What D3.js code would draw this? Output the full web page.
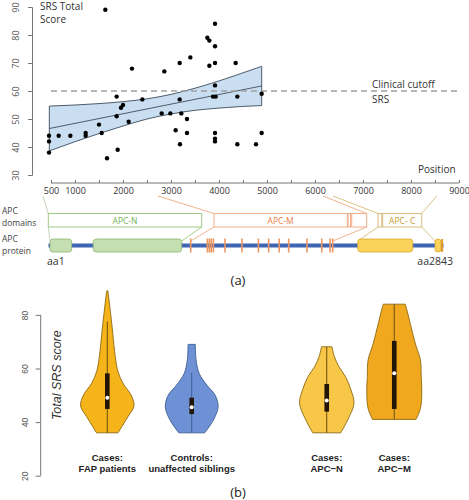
<!DOCTYPE html>
<html><head><meta charset="utf-8">
<script src="https://cdn.jsdelivr.net/npm/d3@7"></script>
<style>body{margin:0;background:#fff}svg{display:block}</style>
</head><body><svg id="c" width="469" height="500"></svg>
<script>
// ---------- Panel (a) data ----------
const positions = [458,458,458,660,903,1222,1222,1500,1556,1632,1667,1868,1868,1889,1958,2000,2118,2187,2403,2806,2861,2986,3097,3181,3181,3187,3215,3333,3333,3403,3757,3799,3799,3917,3917,3917,3917,3875,3931,3917,3917,3917,4347,4382,4382,4889,4889,4771];
const scores    = [44,42,38,44,44,45,44,48,45,89,36,58,51,39,54,55,49,68,57,52,67,52,46,70,57,41,52,50,45,72,79,78,69,84,76,70,62,58,58,45,43,42,70,58,41,59,45,41];
const bandPos   = [465,1000,1500,2000,2500,3000,3500,4000,4500,4889];
const bandUpper = [54.6,55.0,55.5,56.2,57.2,58.8,61.0,63.6,66.5,68.8];
const bandLower = [38.6,41.9,44.8,47.5,50.0,51.8,53.1,53.9,54.5,54.8];
const fitPos    = [465,4889];
const fitVal    = [46.6,61.8];
const cutoff    = 60;
const xTicks    = [500,1000,1500,2000,2500,3000,3500,4000,4500,5000,5500,6000,6500,7000,7500,8000,8500,9000];
const xLabels   = [500,1000,2000,3000,4000,5000,6000,7000,8000,9000];
const yTicksA   = [30,40,50,60,70,80,90];

// domain boxes (nucleotide position coordinates)
const domainNames = ["APC-N","APC-M","","","APC- C"];
const domainStart = [444,3896,6765,7313,7410];
const domainEnd   = [3640,6673,7077,7390,8223];
const domainKind  = ["N","M","M","C","C"];
const domainExtra = [[6690,6740]];
// protein features (amino-acid coordinates)
const proteinLen = 2843;
const greenBoxes = [[12,168],[323,959]];
const orangeBars = [1024,1144,1158,1172,1187,1271,1393,1511,1585,1661,1729,1861,1967,2027,2046];
const yellowBoxes = [[2226,2622],[2782,2825]];
const yellowStripe = 2833;
// connectors: axis position -> box corner, box corner -> amino acid
const topConnFrom = [333,2729,6167,6375,8535];
const topConnTo   = [444,3896,7077,7313,8223];
const topConnKind = ["G","M","M","C","C"];
const botConnFrom = [444,3640,3896,7077,7313,8223];
const botConnTo   = [12,959,1024,2046,2226,2782];
const botConnKind = ["G","N","M","M","C","C"];

// ---------- Panel (b) data ----------
const groups    = ["Cases:|FAP patients","Controls:|unaffected siblings","Cases:|APC\u2212N","Cases:|APC\u2212M"];
const groupPos  = [1,2,3.6,4.4];
const vioColors = ["#f5b41a","#6d91d4","#f8c748","#f0a91f"];
const vioStroke = ["#8c6a12","#3d5d95","#8c6a12","#8c6a12"];
const densVals = [
  [36,42,46,50,54.5,58.8,64.4,73,80.6,89],
  [36,40.8,45.7,50.1,53.8,58.2,63.2,69],
  [36,40.8,47,52,57,60.7,64.4,68.1],
  [41,45,50.7,57,63.2,69.5,76,81.8,84]
];
const densRel = [
  [0.39,0.75,0.97,0.87,0.57,0.39,0.29,0.20,0.12,0.02],
  [0.47,0.79,0.96,0.85,0.55,0.27,0.16,0.13],
  [0.51,0.76,0.99,0.88,0.68,0.44,0.28,0.19],
  [0.79,0.95,1.0,0.98,0.95,0.76,0.6,0.46,0.40]
];
const q1 = [44.9,43,43.9,44.9];
const q3 = [58.2,49.1,54.2,70.3];
const med = [49.1,45.5,48.1,58.2];
const whLo = [36,36,36,41];
const whHi = [77.5,58.4,68.1,84];
const yTicksB = [20,40,60,80];

// ---------- drawing ----------
const svg = d3.select("#c");
const FONT = "'Open Sans', 'Liberation Sans', sans-serif";
const x = d3.scaleLinear().domain([0,9000]).range([27,459]);
const y = d3.scaleLinear().domain([30,90]).range([175,7]);

const bandData = bandPos.map((p,i)=>({p,u:bandUpper[i],l:bandLower[i]}));
svg.append("path").datum(bandData)
  .attr("d", d3.area().x(d=>x(d.p)).y0(d=>y(d.l)).y1(d=>y(d.u)).curve(d3.curveMonotoneX))
  .attr("fill","#c9def0").attr("stroke","none");
svg.append("path").datum(bandData).attr("d", d3.line().x(d=>x(d.p)).y(d=>y(d.u)).curve(d3.curveMonotoneX)).attr("fill","none").attr("stroke","#4d5d6b").attr("stroke-width",1);
svg.append("path").datum(bandData).attr("d", d3.line().x(d=>x(d.p)).y(d=>y(d.l)).curve(d3.curveMonotoneX)).attr("fill","none").attr("stroke","#4d5d6b").attr("stroke-width",1);
[0, bandPos.length-1].forEach(i=>{
  svg.append("line").attr("x1",x(bandPos[i])).attr("x2",x(bandPos[i])).attr("y1",y(bandUpper[i])).attr("y2",y(bandLower[i])).attr("stroke","#4d5d6b").attr("stroke-width",1);
});
svg.append("line").attr("x1",x(fitPos[0])).attr("x2",x(fitPos[1])).attr("y1",y(fitVal[0])).attr("y2",y(fitVal[1])).attr("stroke","#4d5d6b").attr("stroke-width",1);

svg.append("line").attr("x1",x(500)).attr("x2",x(9000)).attr("y1",y(cutoff)).attr("y2",y(cutoff))
  .attr("stroke","#a0a0a0").attr("stroke-width",1.3).attr("stroke-dasharray","6,4");

svg.append("g").selectAll("circle").data(positions).join("circle")
  .attr("cx",(d)=>x(d)).attr("cy",(d,i)=>y(scores[i])).attr("r",2.2).attr("fill","#000");

const gyA = svg.append("g").attr("transform",`translate(32,0)`)
  .call(d3.axisLeft(y).tickValues(yTicksA).tickSize(4).tickFormat(d3.format("d")));
gyA.select(".domain").attr("stroke","#777");
gyA.selectAll(".tick line").attr("stroke","#777");
gyA.selectAll("text").attr("transform","rotate(-90)").attr("x",0).attr("y",-13).attr("dy","0")
  .attr("text-anchor","middle").attr("font-size",9).attr("font-family",FONT).attr("fill","#555");

const gxA = svg.append("g").attr("transform",`translate(0,183)`)
  .call(d3.axisBottom(x).tickValues(xTicks).tickSize(-3).tickPadding(5)
    .tickFormat(d=>xLabels.includes(d)?d:""));
gxA.select(".domain").attr("d",`M${x(500)},0H${x(9000)}`).attr("stroke","#777");
gxA.selectAll(".tick line").attr("stroke","#777");
gxA.selectAll("text").attr("font-size",9).attr("font-family",FONT).attr("fill","#333");

const tA = svg.append("g").attr("font-family",FONT).attr("fill","#333").attr("font-size",10);
tA.append("text").attr("x",40).attr("y",10).text("SRS Total");
tA.append("text").attr("x",40).attr("y",23).text("Score");
tA.append("text").attr("x",372).attr("y",88).text("Clinical cutoff");
tA.append("text").attr("x",372).attr("y",103).text("SRS");
tA.append("text").attr("x",418).attr("y",173).text("Position");

const tL = svg.append("g").attr("font-family",FONT).attr("fill","#444").attr("font-size",8.5);
tL.append("text").attr("x",2).attr("y",214).text("APC");
tL.append("text").attr("x",2).attr("y",226).text("domains");
tL.append("text").attr("x",2).attr("y",242).text("APC");
tL.append("text").attr("x",2).attr("y",254).text("protein");

const connColor = {G:"#c8d2c0",N:"#a9cf8e",M:"#f2b48e",C:"#dcc385"};
const aa = d3.scaleLinear().domain([1,proteinLen]).range([48.5,443.5]);
topConnFrom.forEach((p,i)=>{
  svg.append("line").attr("x1",x(p)).attr("y1",196).attr("x2",x(topConnTo[i])).attr("y2",213.5)
    .attr("stroke",connColor[topConnKind[i]]).attr("stroke-width",1);
});
botConnFrom.forEach((p,i)=>{
  svg.append("line").attr("x1",x(p)).attr("y1",227).attr("x2",aa(botConnTo[i])).attr("y2",241)
    .attr("stroke",connColor[botConnKind[i]]).attr("stroke-width",1);
});

const domStroke = {N:"#9fcb84",M:"#f0ae86",C:"#d8bd7e"};
const domText = {N:"#78b256",M:"#ea7d3e",C:"#c49a2c"};
domainStart.forEach((s,i)=>{
  svg.append("rect").attr("x",x(s)).attr("y",213.5).attr("width",x(domainEnd[i])-x(s)).attr("height",13.5)
    .attr("fill","#fff").attr("stroke",domStroke[domainKind[i]]).attr("stroke-width",1);
  if(domainNames[i]) svg.append("text").attr("x",(x(s)+x(domainEnd[i]))/2).attr("y",223.8)
    .attr("text-anchor","middle").attr("font-family",FONT).attr("font-size",8.5).attr("fill",domText[domainKind[i]]).text(domainNames[i]);
});
domainExtra.forEach(e=>{
  svg.append("rect").attr("x",x(e[0])).attr("y",213.5).attr("width",x(e[1])-x(e[0])).attr("height",13.5)
    .attr("fill","#fff").attr("stroke",domStroke.M).attr("stroke-width",1);
});

svg.append("line").attr("x1",aa(1)).attr("x2",aa(proteinLen)).attr("y1",245.5).attr("y2",245.5).attr("stroke","#3f65b5").attr("stroke-width",4);
greenBoxes.forEach(b=>{
  svg.append("rect").attr("x",aa(b[0])).attr("y",239).attr("width",aa(b[1])-aa(b[0])).attr("height",13).attr("rx",3)
    .attr("fill","#c5dfb3").attr("stroke","#8cb86e").attr("stroke-width",0.8);
});
orangeBars.forEach(b=>{
  svg.append("rect").attr("x",aa(b)-0.8).attr("y",238.5).attr("width",1.6).attr("height",14).attr("fill","#ee9660");
});
yellowBoxes.forEach(b=>{
  svg.append("rect").attr("x",aa(b[0])).attr("y",239).attr("width",aa(b[1])-aa(b[0])).attr("height",13).attr("rx",3)
    .attr("fill","#fcd35a").attr("stroke","#d7a82a").attr("stroke-width",0.8);
});
svg.append("rect").attr("x",aa(yellowStripe)-1).attr("y",239).attr("width",2).attr("height",13).attr("fill","#e39a2c");

svg.append("text").attr("x",47).attr("y",265).attr("font-family",FONT).attr("font-size",10.5).attr("fill","#333").text("aa1");
svg.append("text").attr("x",453).attr("y",265).attr("text-anchor","end").attr("font-family",FONT).attr("font-size",10.5).attr("fill","#333").text("aa2843");
svg.append("text").attr("x",238).attr("y",285).attr("text-anchor","middle").attr("font-family",FONT).attr("font-size",13).attr("fill","#222").text("(a)");

// ---------- Panel (b) ----------
const yb = d3.scaleLinear().domain([20,80]).range([475.7,314.9]);
const xb = d3.scaleLinear().domain([0,5]).range([22.9,444.9]);
const wb = d3.scaleLinear().domain([0,1]).range([0,27.5]);

const gyB = svg.append("g").attr("transform","translate(40.7,0)")
  .call(d3.axisLeft(yb).tickValues(yTicksB).tickSize(5));
gyB.select(".domain").attr("d",`M0,${yb(20)}V${yb(80)}`).attr("stroke","#777");
gyB.selectAll(".tick line").attr("stroke","#777");
gyB.selectAll("text").attr("transform","rotate(-90)").attr("x",0).attr("y",-13).attr("dy","0")
  .attr("text-anchor","middle").attr("font-size",8.5).attr("font-family","'Liberation Sans', Arial, sans-serif").attr("fill","#555");
svg.append("text").attr("transform",`translate(61,${yb(57.5)}) rotate(-90)`).attr("text-anchor","middle")
  .attr("font-family","'Liberation Sans', Arial, sans-serif").attr("font-style","italic").attr("font-size",12.5).attr("fill","#333").text("Total SRS score");

groups.forEach((g,i)=>{
  const cx = xb(groupPos[i]);
  const pts = densVals[i].map((v,j)=>({v,w:densRel[i][j]}));
  svg.append("path").datum(pts)
    .attr("d", d3.area().y(d=>yb(d.v)).x0(d=>cx-wb(d.w)).x1(d=>cx+wb(d.w)).curve(d3.curveCatmullRom.alpha(0.5)))
    .attr("fill",vioColors[i]).attr("stroke",vioStroke[i]).attr("stroke-width",0.9);
  svg.append("line").attr("x1",cx).attr("x2",cx).attr("y1",yb(whLo[i])).attr("y2",yb(whHi[i])).attr("stroke",i===1?"#3d5d95":"#6b4e10").attr("stroke-width",1);
  svg.append("rect").attr("x",cx-2.3).attr("width",4.6).attr("y",yb(q3[i])).attr("height",yb(q1[i])-yb(q3[i])).attr("fill","#221508");
  svg.append("circle").attr("cx",cx).attr("cy",yb(med[i])).attr("r",2).attr("fill","#fff");
  const parts = g.split("|");
  const t = svg.append("text").attr("text-anchor","middle").attr("font-family","'Liberation Sans', Arial, sans-serif")
    .attr("font-weight","bold").attr("font-size",9.5).attr("fill","#222");
  t.append("tspan").attr("x",cx).attr("y",461).text(parts[0]);
  t.append("tspan").attr("x",cx).attr("y",472).text(parts[1]);
});
svg.append("text").attr("x",238).attr("y",497).attr("text-anchor","middle").attr("font-family",FONT).attr("font-size",13).attr("fill","#222").text("(b)");
</script></body></html>
